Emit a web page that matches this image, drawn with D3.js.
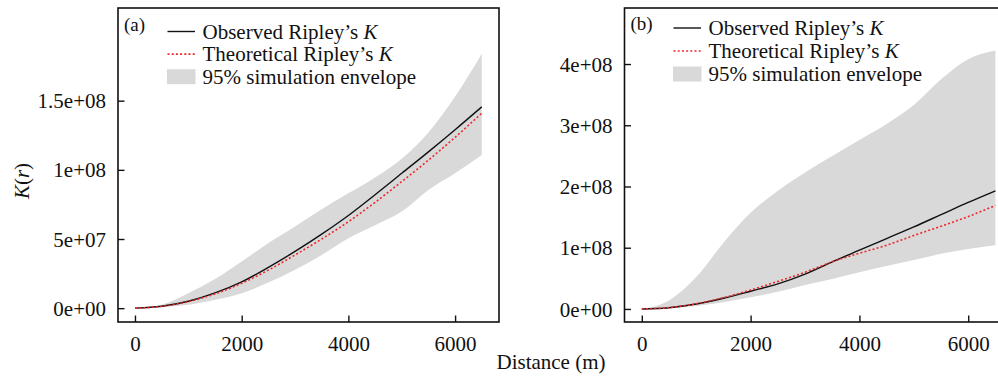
<!DOCTYPE html>
<html><head><meta charset="utf-8">
<script src="https://cdn.jsdelivr.net/npm/d3@7"></script>
<style>
html,body{margin:0;padding:0;background:#fff}
svg{display:block}
text{font-family:"Liberation Serif","Times New Roman",serif;fill:#111}
</style>
</head><body>
<svg id="chart" width="998" height="380"></svg>
<script>
// ---------- data ----------
const distance = [0,500,1000,1500,2000,2500,3000,3500,4000,4500,5000,5500,6000,6500];

// panel (a)
const observedA    = [0,1.4e6,5.0e6,1.1e7,1.9e7,2.95e7,4.1e7,5.35e7,6.7e7,8.2e7,9.75e7,1.13e8,1.29e8,1.455e8];
const theoreticalA = [0,1.3e6,4.7e6,1.03e7,1.8e7,2.75e7,3.85e7,5.0e7,6.25e7,7.65e7,9.15e7,1.07e8,1.235e8,1.41e8];
const envLowA      = [0,0.8e6,2.4e6,6.0e6,1.08e7,1.85e7,2.77e7,3.85e7,5.06e7,6.0e7,6.98e7,8.55e7,9.75e7,1.108e8];
const envHighA     = [0,2.5e6,1.08e7,2.1e7,3.37e7,4.7e7,5.9e7,7.15e7,8.3e7,9.45e7,1.08e8,1.27e8,1.53e8,1.84e8];

// panel (b)
const observedB    = [0,2.0e6,8.0e6,1.75e7,2.9e7,4.1e7,5.7e7,7.7e7,9.6e7,1.15e8,1.34e8,1.54e8,1.74e8,1.93e8];
const theoreticalB = [0,2.2e6,8.5e6,1.85e7,3.1e7,4.5e7,6.0e7,7.7e7,9.1e7,1.04e8,1.2e8,1.35e8,1.51e8,1.69e8];
const envLowB      = [0,1.5e6,5.0e6,1.1e7,1.9e7,2.8e7,3.9e7,4.9e7,6.0e7,7.0e7,8.0e7,9.0e7,9.8e7,1.04e8];
const envHighB     = [0,1.4e7,5.2e7,1.08e8,1.57e8,1.93e8,2.23e8,2.5e8,2.76e8,3.02e8,3.33e8,3.75e8,4.08e8,4.22e8];

const xTicks = [0,2000,4000,6000];
const xTickLabels = ["0","2000","4000","6000"];
const yTicksA = [0,5e7,1e8,1.5e8];
const yTickLabelsA = ["0e+00","5e+07","1e+08","1.5e+08"];
const yTicksB = [0,1e8,2e8,3e8,4e8];
const yTickLabelsB = ["0e+00","1e+08","2e+08","3e+08","4e+08"];

const legendLabels = ["Observed Ripley\u2019s ", "Theoretical Ripley\u2019s ", "95% simulation envelope"];
const panelTags = ["(a)","(b)"];
const xTitle = "Distance (m)";

// ---------- drawing ----------
const SERIF = "Liberation Serif, Times New Roman, serif";
const svg = d3.select("#chart");
const GREY = "#d9d9d9", RED = "#f2262a", INK = "#111";

const panels = [
  {tag:panelTags[0], frame:{l:118,t:8,r:499,b:322}, xDom:[-318,6823], yDom:[-1.0e7,2.17e8],
   obs:observedA, theo:theoreticalA, lo:envLowA, hi:envHighA, yT:yTicksA, yL:yTickLabelsA,
   leg:{x:167.5,y:31.5,dy:22.6}, tagPos:{x:124,y:31}},
  {tag:panelTags[1], frame:{l:624.5,t:8,r:1013,b:322}, xDom:[-318,6823], yDom:[-0.213e8,4.915e8],
   obs:observedB, theo:theoreticalB, lo:envLowB, hi:envHighB, yT:yTicksB, yL:yTickLabelsB,
   leg:{x:673.5,y:28,dy:23}, tagPos:{x:630.5,y:30}}
];

panels.forEach((p,i) => {
  const f = p.frame;
  const x = d3.scaleLinear().domain(p.xDom).range([f.l,f.r]);
  const y = d3.scaleLinear().domain(p.yDom).range([f.b,f.t]);
  const g = svg.append("g");

  const clipId = "clip"+i;
  g.append("clipPath").attr("id",clipId).append("rect")
    .attr("x",f.l).attr("y",f.t).attr("width",f.r-f.l).attr("height",f.b-f.t);
  const plot = g.append("g").attr("clip-path",`url(#${clipId})`);

  const rows = distance.map((d,k)=>({r:d,obs:p.obs[k],theo:p.theo[k],lo:p.lo[k],hi:p.hi[k]}));
  plot.append("path").datum(rows)
    .attr("d", d3.area().curve(d3.curveMonotoneX).x(d=>x(d.r)).y0(d=>y(d.lo)).y1(d=>y(d.hi)))
    .attr("fill",GREY);
  plot.append("path").datum(rows)
    .attr("d", d3.line().curve(d3.curveMonotoneX).x(d=>x(d.r)).y(d=>y(d.obs)))
    .attr("fill","none").attr("stroke",INK).attr("stroke-width",1.4);
  plot.append("path").datum(rows)
    .attr("d", d3.line().curve(d3.curveMonotoneX).x(d=>x(d.r)).y(d=>y(d.theo)))
    .attr("fill","none").attr("stroke",RED).attr("stroke-width",1.6).attr("stroke-dasharray","2,2.2");

  // axes with inward ticks
  const xAxis = d3.axisBottom(x).tickValues(xTicks).tickFormat((d,k)=>xTickLabels[k])
    .tickSizeInner(-6.5).tickSizeOuter(0).tickPadding(14);
  const gx = g.append("g").attr("transform",`translate(0,${f.b})`).call(xAxis);
  const yAxis = d3.axisLeft(y).tickValues(p.yT).tickFormat((d,k)=>p.yL[k])
    .tickSizeInner(-6.5).tickSizeOuter(0).tickPadding(12);
  const gy = g.append("g").attr("transform",`translate(${f.l},0)`).call(yAxis);
  [gx,gy].forEach(a=>{
    a.attr("font-family",SERIF).attr("font-size",21);
    a.select(".domain").remove();
    a.selectAll(".tick line").attr("stroke",INK).attr("stroke-width",1.4);
    a.selectAll(".tick text").attr("font-family",SERIF).attr("font-size",21)
      .style("font-family",SERIF).attr("fill",INK);
  });
  gx.selectAll(".tick text").attr("dy","0.71em");
  gy.selectAll(".tick text").attr("dy","0.34em");

  g.append("rect").attr("x",f.l).attr("y",f.t).attr("width",f.r-f.l).attr("height",f.b-f.t)
    .attr("fill","none").attr("stroke",INK).attr("stroke-width",1.6);

  // panel tag
  g.append("text").attr("x",p.tagPos.x).attr("y",p.tagPos.y).style("font-size","19px").text(p.tag);

  // legend
  const L = p.leg;
  const lg = g.append("g");
  lg.append("line").attr("x1",L.x).attr("x2",L.x+27.5).attr("y1",L.y).attr("y2",L.y)
    .attr("stroke",INK).attr("stroke-width",1.4);
  lg.append("line").attr("x1",L.x).attr("x2",L.x+27.5).attr("y1",L.y+L.dy).attr("y2",L.y+L.dy)
    .attr("stroke",RED).attr("stroke-width",1.6).attr("stroke-dasharray","2,2.2");
  lg.append("rect").attr("x",L.x-0.5).attr("y",L.y+2*L.dy-7.5).attr("width",28.5).attr("height",15)
    .attr("fill",GREY);
  legendLabels.forEach((lab,k)=>{
    const t = lg.append("text").attr("x",L.x+35).attr("y",L.y+k*L.dy+7).style("font-size","21px");
    t.append("tspan").text(lab);
    if(k<2) t.append("tspan").style("font-style","italic").text("K");
  });
});

// axis titles
const yTitle = svg.append("text").attr("transform","translate(29,181) rotate(-90)")
  .attr("text-anchor","middle").style("font-size","21px");
yTitle.append("tspan").style("font-style","italic").text("K");
yTitle.append("tspan").text("(");
yTitle.append("tspan").style("font-style","italic").text("r");
yTitle.append("tspan").text(")");

svg.append("text").attr("x",551).attr("y",369).attr("text-anchor","middle")
  .style("font-size","21px").text(xTitle);
</script>
</body></html>
